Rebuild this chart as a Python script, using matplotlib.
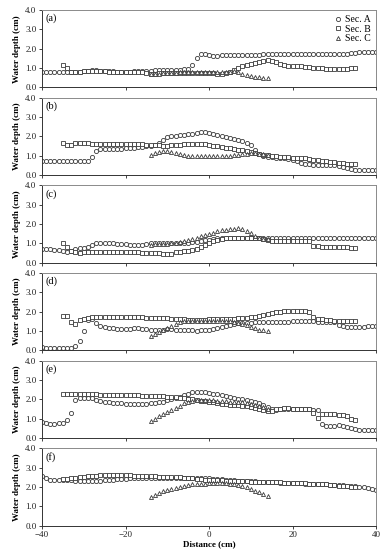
"""
Water depth profiles along the flume for three cross sections (Sec. A, B, C),
six test cases (a)-(f) stacked with a shared distance axis.
"""

import matplotlib
matplotlib.use("Agg")
import matplotlib.pyplot as plt
from matplotlib.ticker import FormatStrFormatter


# Distance stations (cm) for each section
DIST_A = list(range(-40, 41))
DIST_B = list(range(-35, 36))
DIST_C = list(range(-14, 15))

PANEL_LABELS = ["(a)", "(b)", "(c)", "(d)", "(e)", "(f)"]
SECTION_NAMES = ["Sec. A", "Sec. B", "Sec. C"]
X_TICKS = [-40, -20, 0, 20, 40]
Y_TICKS = [0.0, 1.0, 2.0, 3.0, 4.0]

# Water depth (cm)
depth_a_A = [0.82, 0.80, 0.78, 0.78, 0.78, 0.78, 0.80, 0.78, 0.80, 0.82,
             0.85, 0.86, 0.88, 0.88, 0.87, 0.86, 0.85, 0.84, 0.82, 0.82,
             0.82, 0.82, 0.83, 0.84, 0.85, 0.86, 0.87, 0.88, 0.88, 0.90,
             0.90, 0.90, 0.90, 0.92, 0.93, 0.95, 1.18, 1.52, 1.72, 1.73,
             1.66, 1.63, 1.63, 1.65, 1.67, 1.68, 1.68, 1.68, 1.68, 1.69,
             1.70, 1.70, 1.70, 1.71, 1.72, 1.72, 1.72, 1.72, 1.72, 1.72,
             1.72, 1.72, 1.72, 1.72, 1.72, 1.72, 1.72, 1.72, 1.72, 1.72,
             1.72, 1.72, 1.73, 1.75, 1.78, 1.80, 1.83, 1.84, 1.84, 1.83, 1.83]
depth_a_B = [1.15, 0.98, 0.80, 0.78, 0.82, 0.83, 0.84, 0.85, 0.85, 0.84,
             0.83, 0.82, 0.82, 0.80, 0.80, 0.80, 0.80, 0.80, 0.78, 0.78,
             0.75, 0.70, 0.72, 0.74, 0.75, 0.76, 0.76, 0.77, 0.77, 0.77,
             0.77, 0.76, 0.76, 0.76, 0.76, 0.75, 0.74, 0.72, 0.72, 0.74,
             0.80, 0.90, 1.00, 1.10, 1.17, 1.22, 1.28, 1.33, 1.38, 1.40,
             1.38, 1.30, 1.22, 1.16, 1.12, 1.12, 1.12, 1.10, 1.08, 1.05,
             1.02, 1.00, 0.98, 0.97, 0.96, 0.96, 0.96, 0.96, 0.97, 0.98, 0.98]
depth_a_C = [0.68, 0.70, 0.72, 0.74, 0.75, 0.76, 0.77, 0.78, 0.78, 0.79,
             0.79, 0.80, 0.80, 0.80, 0.80, 0.80, 0.80, 0.80, 0.80, 0.82,
             0.85, 0.78, 0.72, 0.66, 0.60, 0.55, 0.52, 0.50, 0.50]

depth_b_A = [0.75, 0.73, 0.73, 0.73, 0.73, 0.73, 0.73, 0.73, 0.73, 0.73, 0.73, 0.74,
             0.92, 1.22, 1.33, 1.35, 1.35, 1.33, 1.33, 1.35, 1.38, 1.40,
             1.42, 1.45, 1.47, 1.48, 1.50, 1.55, 1.65, 1.82, 1.95, 2.02,
             2.04, 2.05, 2.07, 2.10, 2.13, 2.17, 2.20, 2.20, 2.18, 2.12,
             2.05, 2.00, 1.96, 1.93, 1.88, 1.83, 1.78, 1.68, 1.55, 1.30,
             1.10, 1.00, 0.95, 0.92, 0.90, 0.88, 0.87, 0.85, 0.80, 0.72,
             0.65, 0.58, 0.55, 0.53, 0.52, 0.52, 0.53, 0.53, 0.52, 0.48,
             0.42, 0.36, 0.31, 0.29, 0.28, 0.27, 0.27, 0.26, 0.26]
depth_b_B = [1.64, 1.57, 1.56, 1.66, 1.66, 1.66, 1.65, 1.63, 1.62, 1.62,
             1.62, 1.62, 1.62, 1.61, 1.60, 1.60, 1.60, 1.59, 1.58, 1.58,
             1.57, 1.57, 1.56, 1.55, 1.52, 1.52, 1.53, 1.55, 1.57, 1.58,
             1.60, 1.61, 1.62, 1.61, 1.58, 1.55, 1.52, 1.49, 1.46, 1.42,
             1.38, 1.35, 1.32, 1.28, 1.24, 1.18, 1.14, 1.10, 1.06, 1.03,
             1.00, 0.97, 0.95, 0.93, 0.92, 0.90, 0.89, 0.88, 0.87, 0.85,
             0.80, 0.76, 0.74, 0.71, 0.68, 0.66, 0.64, 0.62, 0.60, 0.58, 0.56]
depth_b_C = [1.05, 1.13, 1.18, 1.22, 1.22, 1.20, 1.15, 1.08, 1.03, 1.01,
             1.00, 1.00, 1.00, 1.00, 1.00, 1.00, 1.00, 1.00, 1.00, 1.00,
             1.02, 1.05, 1.08, 1.10, 1.12, 1.12, 1.10, 1.07, 1.02]

depth_c_A = [0.70, 0.70, 0.69, 0.68, 0.66, 0.60, 0.58, 0.60, 0.72, 0.75,
             0.78, 0.82, 0.90, 1.00, 1.02, 1.02, 1.00, 1.00, 0.98, 0.97,
             0.95, 0.92, 0.90, 0.90, 0.92, 0.97, 1.00, 1.02, 1.03, 1.04,
             1.04, 1.04, 1.04, 1.04, 1.04, 1.04, 1.05, 1.08, 1.12, 1.16,
             1.20, 1.24, 1.27, 1.29, 1.30, 1.30, 1.30, 1.30, 1.30, 1.30,
             1.30, 1.30, 1.30, 1.30, 1.30, 1.30, 1.30, 1.30, 1.30, 1.30,
             1.30, 1.30, 1.30, 1.30, 1.30, 1.30, 1.30, 1.30, 1.30, 1.30,
             1.30, 1.30, 1.30, 1.30, 1.30, 1.30, 1.30, 1.30, 1.30, 1.30, 1.30]
depth_c_B = [1.00, 0.80, 0.62, 0.55, 0.53, 0.55, 0.57, 0.58, 0.58, 0.58,
             0.58, 0.58, 0.57, 0.57, 0.56, 0.56, 0.55, 0.55, 0.54, 0.53,
             0.52, 0.51, 0.50, 0.48, 0.46, 0.44, 0.45, 0.55, 0.58, 0.60,
             0.60, 0.65, 0.72, 0.80, 0.90, 1.00, 1.10, 1.20, 1.25, 1.27,
             1.27, 1.27, 1.27, 1.27, 1.27, 1.27, 1.27, 1.27, 1.22, 1.18,
             1.15, 1.15, 1.15, 1.15, 1.15, 1.15, 1.14, 1.13, 1.12, 1.12,
             0.88, 0.85, 0.84, 0.83, 0.82, 0.82, 0.80, 0.80, 0.79, 0.78, 0.77]
depth_c_C = [0.92, 0.97, 0.98, 0.98, 0.99, 1.00, 1.00, 1.05, 1.12, 1.18,
             1.24, 1.30, 1.36, 1.42, 1.48, 1.55, 1.62, 1.68, 1.70, 1.72,
             1.75, 1.77, 1.72, 1.66, 1.55, 1.38, 1.30, 1.25, 1.22]

depth_d_A = [0.20, 0.15, 0.15, 0.15, 0.15, 0.15, 0.15, 0.15, 0.25, 0.47,
             1.00, 1.55, 1.62, 1.42, 1.25, 1.20, 1.18, 1.15, 1.12, 1.10,
             1.10, 1.12, 1.15, 1.15, 1.12, 1.10, 1.08, 1.07, 1.07, 1.08,
             1.10, 1.10, 1.08, 1.07, 1.05, 1.05, 1.03, 1.02, 1.03, 1.05,
             1.08, 1.10, 1.15, 1.20, 1.25, 1.30, 1.35, 1.40, 1.42, 1.40,
             1.42, 1.45, 1.47, 1.48, 1.48, 1.48, 1.48, 1.49, 1.49, 1.49,
             1.50, 1.50, 1.50, 1.50, 1.50, 1.50, 1.49, 1.49, 1.48, 1.48,
             1.45, 1.30, 1.25, 1.22, 1.22, 1.22, 1.23, 1.23, 1.24, 1.24, 1.25]
depth_d_B = [1.80, 1.78, 1.45, 1.38, 1.55, 1.62, 1.68, 1.72, 1.72, 1.72,
             1.73, 1.73, 1.73, 1.73, 1.72, 1.72, 1.72, 1.72, 1.72, 1.72,
             1.70, 1.70, 1.70, 1.68, 1.67, 1.65, 1.63, 1.62, 1.60, 1.60,
             1.58, 1.58, 1.58, 1.58, 1.58, 1.60, 1.60, 1.60, 1.62, 1.62,
             1.62, 1.63, 1.65, 1.67, 1.70, 1.72, 1.75, 1.78, 1.82, 1.86,
             1.92, 1.96, 1.98, 2.02, 2.05, 2.05, 2.05, 2.04, 2.02, 1.98,
             1.75, 1.62, 1.60, 1.58, 1.57, 1.52, 1.52, 1.52, 1.52, 1.52, 1.52]
depth_d_C = [0.75, 0.87, 0.97, 1.05, 1.15, 1.25, 1.38, 1.45, 1.50, 1.52,
             1.52, 1.52, 1.52, 1.52, 1.52, 1.52, 1.52, 1.52, 1.52, 1.52,
             1.48, 1.42, 1.38, 1.32, 1.22, 1.15, 1.08, 1.03, 1.00]

depth_e_A = [0.84, 0.76, 0.74, 0.74, 0.76, 0.80, 0.94, 1.32, 1.95, 2.05,
             2.08, 2.08, 2.05, 1.98, 1.90, 1.86, 1.84, 1.82, 1.80, 1.79,
             1.78, 1.77, 1.77, 1.77, 1.78, 1.78, 1.80, 1.82, 1.85, 1.88,
             1.95, 2.00, 2.05, 2.12, 2.20, 2.30, 2.36, 2.40, 2.40, 2.37,
             2.32, 2.28, 2.25, 2.20, 2.16, 2.12, 2.08, 2.04, 2.00, 1.95,
             1.90, 1.85, 1.80, 1.72, 1.60, 1.50, 1.45, 1.48, 1.50, 1.50,
             1.50, 1.50, 1.50, 1.48, 1.48, 1.47, 1.45, 0.72, 0.63, 0.62,
             0.64, 0.66, 0.63, 0.58, 0.50, 0.45, 0.41, 0.40, 0.40, 0.40, 0.40]
depth_e_B = [2.28, 2.28, 2.28, 2.28, 2.28, 2.27, 2.27, 2.25, 2.25, 2.24,
             2.23, 2.22, 2.22, 2.22, 2.20, 2.20, 2.20, 2.20, 2.20, 2.19,
             2.18, 2.18, 2.17, 2.16, 2.15, 2.13, 2.12, 2.10, 2.08, 2.05,
             2.02, 2.00, 1.95, 1.92, 1.90, 1.88, 1.85, 1.82, 1.78, 1.75,
             1.72, 1.70, 1.70, 1.68, 1.66, 1.60, 1.55, 1.50, 1.45, 1.40,
             1.38, 1.50, 1.52, 1.53, 1.53, 1.52, 1.52, 1.50, 1.50, 1.48,
             1.32, 1.06, 1.26, 1.25, 1.24, 1.22, 1.20, 1.18, 1.12, 0.98, 0.92]
depth_e_C = [0.90, 1.00, 1.12, 1.22, 1.35, 1.45, 1.55, 1.68, 1.80, 1.88,
             1.92, 1.95, 1.97, 1.98, 1.97, 1.95, 1.93, 1.92, 1.90, 1.88,
             1.87, 1.85, 1.84, 1.82, 1.78, 1.72, 1.65, 1.58, 1.50]

depth_f_A = [2.58, 2.45, 2.35, 2.35, 2.36, 2.37, 2.37, 2.36, 2.33, 2.30,
             2.30, 2.30, 2.30, 2.32, 2.33, 2.35, 2.37, 2.38, 2.40, 2.42,
             2.43, 2.45, 2.45, 2.46, 2.47, 2.48, 2.48, 2.48, 2.48, 2.48,
             2.48, 2.48, 2.48, 2.47, 2.47, 2.46, 2.46, 2.45, 2.45, 2.45,
             2.44, 2.43, 2.42, 2.40, 2.38, 2.36, 2.34, 2.33, 2.32, 2.30,
             2.30, 2.29, 2.28, 2.27, 2.26, 2.25, 2.24, 2.23, 2.22, 2.22,
             2.20, 2.20, 2.19, 2.18, 2.17, 2.16, 2.15, 2.14, 2.13, 2.12,
             2.10, 2.10, 2.08, 2.06, 2.04, 2.03, 2.02, 2.00, 1.97, 1.92, 1.86]
depth_f_B = [2.40, 2.42, 2.45, 2.48, 2.50, 2.53, 2.55, 2.57, 2.58, 2.60,
             2.60, 2.60, 2.60, 2.60, 2.60, 2.60, 2.60, 2.59, 2.58, 2.57,
             2.56, 2.55, 2.55, 2.54, 2.53, 2.52, 2.52, 2.51, 2.50, 2.49,
             2.45, 2.44, 2.42, 2.40, 2.38, 2.37, 2.36, 2.35, 2.34, 2.33,
             2.32, 2.31, 2.30, 2.30, 2.29, 2.28, 2.27, 2.27, 2.26, 2.26,
             2.25, 2.25, 2.24, 2.23, 2.22, 2.21, 2.20, 2.20, 2.19, 2.18,
             2.17, 2.16, 2.15, 2.13, 2.11, 2.09, 2.07, 2.05, 2.03, 2.02, 2.00]
depth_f_C = [1.50, 1.60, 1.70, 1.78, 1.85, 1.90, 1.95, 2.00, 2.05, 2.10,
             2.13, 2.15, 2.17, 2.18, 2.19, 2.20, 2.20, 2.20, 2.20, 2.18,
             2.17, 2.12, 2.05, 1.98, 1.90, 1.82, 1.72, 1.62, 1.53]

PANELS = [
    (depth_a_A, depth_a_B, depth_a_C),
    (depth_b_A, depth_b_B, depth_b_C),
    (depth_c_A, depth_c_B, depth_c_C),
    (depth_d_A, depth_d_B, depth_d_C),
    (depth_e_A, depth_e_B, depth_e_C),
    (depth_f_A, depth_f_B, depth_f_C),
]

SERIF = ["Liberation Serif", "DejaVu Serif"]
EDGE = "#3a3a3a"


def draw_panel(ax, label, depths, show_legend, show_xlabels):
    dA, dB, dC = depths
    ax.plot(DIST_A, dA, linestyle="none", marker="o", ms=3.0,
            mfc="white", mec=EDGE, mew=0.6, label=SECTION_NAMES[0])
    ax.plot(DIST_B, dB, linestyle="none", marker="s", ms=2.9,
            mfc="white", mec=EDGE, mew=0.6, label=SECTION_NAMES[1])
    ax.plot(DIST_C, dC, linestyle="none", marker="^", ms=2.9,
            mfc="white", mec=EDGE, mew=0.6, label=SECTION_NAMES[2])

    ax.set_xlim(-40, 40)
    ax.set_ylim(0, 4.0)
    ax.set_xticks(X_TICKS)
    ax.set_yticks(Y_TICKS)
    ax.yaxis.set_major_formatter(FormatStrFormatter("%.1f"))
    ax.tick_params(direction="out", length=2.5, width=0.6, labelsize=6.5,
                   pad=1.5, colors="#222222")
    if not show_xlabels:
        ax.tick_params(labelbottom=False)

    for side in ["top", "right"]:
        ax.spines[side].set_color("#8a8a8a")
        ax.spines[side].set_linewidth(0.7)
    for side in ["left", "bottom"]:
        ax.spines[side].set_color("#333333")
        ax.spines[side].set_linewidth(0.7)

    ax.text(0.012, 0.95, label, transform=ax.transAxes, ha="left", va="top",
            fontsize=7.5, family=SERIF)
    ax.set_ylabel("Water depth (cm)", fontsize=6.5, fontweight="bold",
                  family=SERIF, labelpad=3)

    if show_legend:
        ax.legend(loc="upper right", frameon=False, fontsize=7,
                  prop={"family": SERIF, "size": 7},
                  handletextpad=0.1, labelspacing=0.05,
                  borderaxespad=0.15, handlelength=1.2)


def main():
    plt.rcParams["font.family"] = SERIF
    fig, axes = plt.subplots(6, 1, figsize=(3.85, 5.5), dpi=100, sharex=True)
    fig.subplots_adjust(left=0.109, right=0.977, top=0.982, bottom=0.044,
                        hspace=0.13)

    for i, ax in enumerate(axes):
        draw_panel(ax, PANEL_LABELS[i], PANELS[i], i == 0, i == len(axes) - 1)

    axes[-1].set_xlabel("Distance (cm)", fontsize=6.5, fontweight="bold",
                        family=SERIF, labelpad=0.5)

    fig.savefig("out.png", dpi=100)
    plt.close(fig)


if __name__ == "__main__":
    main()
